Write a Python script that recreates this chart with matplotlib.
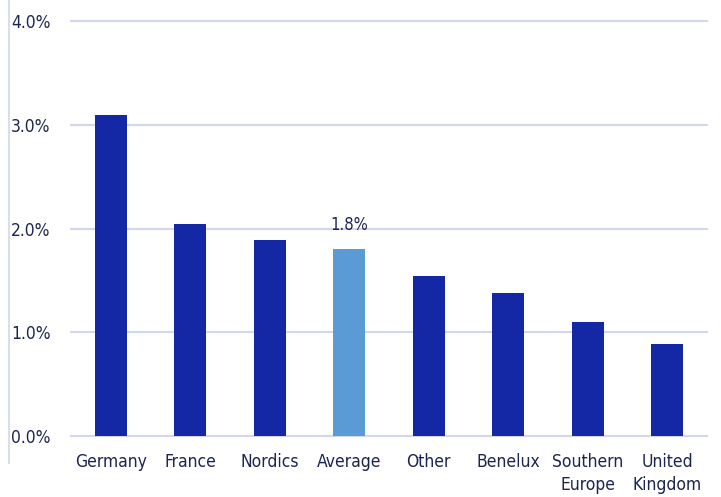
import matplotlib
matplotlib.use("Agg")
import matplotlib.pyplot as plt
from matplotlib.lines import Line2D

regions = ["Germany", "France", "Nordics", "Average", "Other",
           "Benelux", "Southern\nEurope", "United\nKingdom"]
growth = [3.09, 2.04, 1.89, 1.80, 1.54, 1.38, 1.10, 0.89]
yticks = [0, 1, 2, 3, 4]

dark = "#1428a5"
light = "#5b9bd5"
text_col = "#1c2550"
grid_col = "#d3d7ee"

plt.rcParams["font.family"] = ["DejaVu Sans"]
plt.rcParams["font.stretch"] = "condensed"

fig = plt.figure(figsize=(7.21, 4.97), dpi=100)
ax = fig.add_axes([0.0985, 0.1227, 0.882, 0.835])

colors = [light if r == "Average" else dark for r in regions]
x = list(range(len(regions)))
ax.bar(x, growth, width=0.4, color=colors, zorder=3)

avg = regions.index("Average")
ax.text(avg, growth[avg] + 0.15, f"{growth[avg]:.1f}%", ha="center", va="bottom",
        fontsize=12, color=text_col)

ax.set_xlim(-0.5, len(regions) - 0.5)
ax.set_ylim(0, 4.0)
ax.set_yticks(yticks)
ax.set_yticklabels([f"{v:.1f}%" for v in yticks], ha="left")
ax.tick_params(axis="y", length=0, pad=43, labelsize=12.5, labelcolor=text_col)
ax.set_xticks(x)
ax.set_xticklabels(regions, linespacing=1.4)
ax.tick_params(axis="x", length=0, pad=12, labelsize=12.5, labelcolor=text_col)

ax.grid(axis="y", color=grid_col, linewidth=1.5, zorder=0)
ax.set_axisbelow(True)
for s in ax.spines.values():
    s.set_visible(False)
for gl in ax.get_ygridlines():
    gl.set_clip_on(False)

# thin rule down the left edge
fig.add_artist(Line2D([0.0118, 0.0118], [0.068, 1.0], color="#d6def0", linewidth=1.5))

fig.savefig("out.png", dpi=100)
